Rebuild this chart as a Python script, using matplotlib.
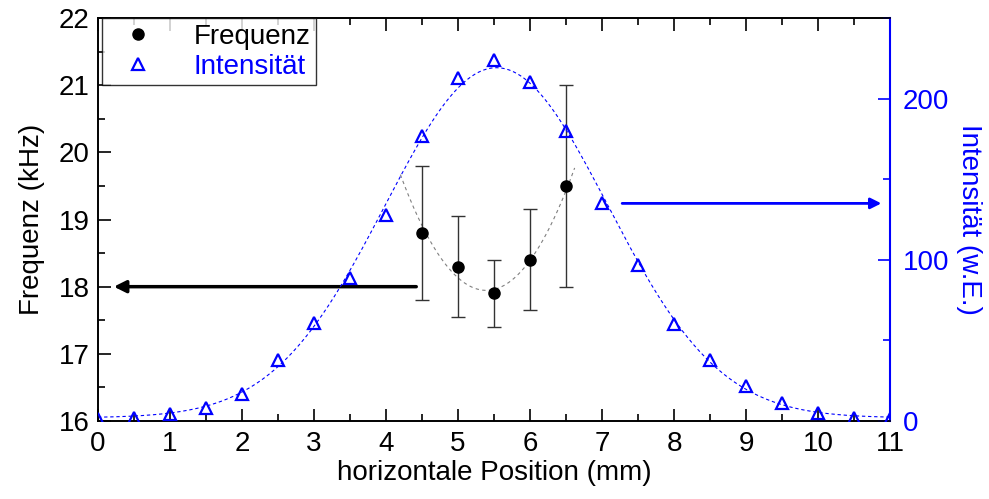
import numpy as np
import matplotlib.pyplot as plt
from matplotlib.ticker import MultipleLocator

plt.rcParams['font.family'] = ['Liberation Sans', 'DejaVu Sans']

# Intensitaet (w.E.) vs. horizontale Position
pos_int = [0, 0.5, 1, 1.5, 2, 2.5, 3, 3.5, 4, 4.5, 5, 5.5,
           6, 6.5, 7, 7.5, 8, 8.5, 9, 9.5, 10, 10.5, 11]
intensity = [1, 2, 4.5, 8, 17, 38, 61, 89, 128, 177, 213, 224,
             210, 180, 135, 97, 60, 38, 22, 11, 5, 2, 1]

# Frequenz (kHz) with error
pos_freq = [4.5, 5.0, 5.5, 6.0, 6.5]
freq = [18.8, 18.3, 17.9, 18.4, 19.5]
freq_err = [1.0, 0.75, 0.5, 0.75, 1.5]

# Gaussian fit of the intensity (log-parabola, weighted)
x_int = np.array(pos_int)
y_int = np.array(intensity)
offset = 2.0
mask = y_int - offset > 1
c2, c1, c0 = np.polyfit(x_int[mask], np.log(y_int[mask] - offset), 2,
                        w=np.sqrt(y_int[mask] - offset))
xg = np.linspace(0, 11, 400)
yg = offset + np.exp(c0 + c1 * xg + c2 * xg ** 2)

# parabola fit of the frequency
p = np.polyfit(pos_freq, freq, 2, w=1 / np.array(freq_err))
xp = np.linspace(4.2, 6.62, 200)
yp = np.polyval(p, xp)

fig = plt.figure(figsize=(9.89, 4.99), dpi=100)
ax = fig.add_axes([0.0991, 0.1563, 0.8008, 0.8076])
ax2 = ax.twinx()

fs = 20
ax.plot(xp, yp, color='gray', ls=(0, (3, 3)), lw=0.8)
ax.errorbar(pos_freq, freq, yerr=freq_err, fmt='o', color='black', ms=8,
            ecolor='#333333', elinewidth=1, capsize=5, capthick=1, zorder=5)
ax.annotate('', xy=(0.22, 18.0), xytext=(4.42, 18.0),
            arrowprops=dict(arrowstyle='-|>', color='black', lw=2.5,
                            mutation_scale=18, shrinkA=0, shrinkB=0))

ax2.plot(xg, yg, color='blue', ls=(0, (3, 2.5)), lw=0.8)
ax2.plot(pos_int, intensity, ls='none', marker='^', ms=8.5, mfc='none',
         mec='blue', mew=1.6, zorder=5)
ax2.annotate('', xy=(10.88, 135), xytext=(7.28, 135),
             arrowprops=dict(arrowstyle='-|>', color='blue', lw=2,
                             mutation_scale=16, shrinkA=0, shrinkB=0))

ax.set_xlim(0, 11)
ax.set_ylim(16, 22)
ax2.set_ylim(0, 250)
ax.xaxis.set_major_locator(MultipleLocator(1))
ax.xaxis.set_minor_locator(MultipleLocator(0.5))
ax.yaxis.set_major_locator(MultipleLocator(1))
ax.yaxis.set_minor_locator(MultipleLocator(0.5))
ax2.yaxis.set_major_locator(MultipleLocator(100))
ax2.yaxis.set_minor_locator(MultipleLocator(50))

ax.tick_params(which='both', direction='in', top=True, right=False,
               labelsize=fs, width=1.2, pad=6)
ax.tick_params(axis='x', pad=7)
ax.tick_params(which='major', length=9)
ax.tick_params(which='minor', length=5)
ax2.tick_params(which='both', direction='in', colors='blue',
                labelsize=fs, width=1.2, pad=9)
ax2.tick_params(which='major', length=9)
ax2.tick_params(which='minor', length=5)
for s in ['left', 'bottom', 'top']:
    ax.spines[s].set_linewidth(1.2)
    ax2.spines[s].set_linewidth(1.2)
ax2.spines['right'].set_color('blue')
ax2.spines['right'].set_linewidth(1.5)
ax.spines['right'].set_visible(False)

ax.set_xlabel('horizontale Position (mm)', fontsize=fs, labelpad=2)
ax.set_ylabel('Frequenz (kHz)', fontsize=fs, labelpad=10)
ax2.set_ylabel('Intensität (w.E.)', fontsize=fs, color='blue',
               rotation=270, labelpad=24)

h1 = ax.errorbar([], [], fmt='o', color='black', ms=8)
h2, = ax.plot([], [], ls='none', marker='^', ms=8.5, mfc='none', mec='blue', mew=1.6)
leg = ax2.legend([h1, h2], ['Frequenz', 'Intensität'], loc='upper left',
                 bbox_to_anchor=(0.005, 1.0), fontsize=fs, frameon=True,
                 fancybox=False, borderpad=0.2, handletextpad=0.9,
                 labelspacing=0.15, borderaxespad=0, handlelength=2.2)
leg.get_frame().set_edgecolor('black')
leg.get_frame().set_linewidth(1)
leg.get_texts()[1].set_color('blue')

fig.savefig('out.png', dpi=100)
